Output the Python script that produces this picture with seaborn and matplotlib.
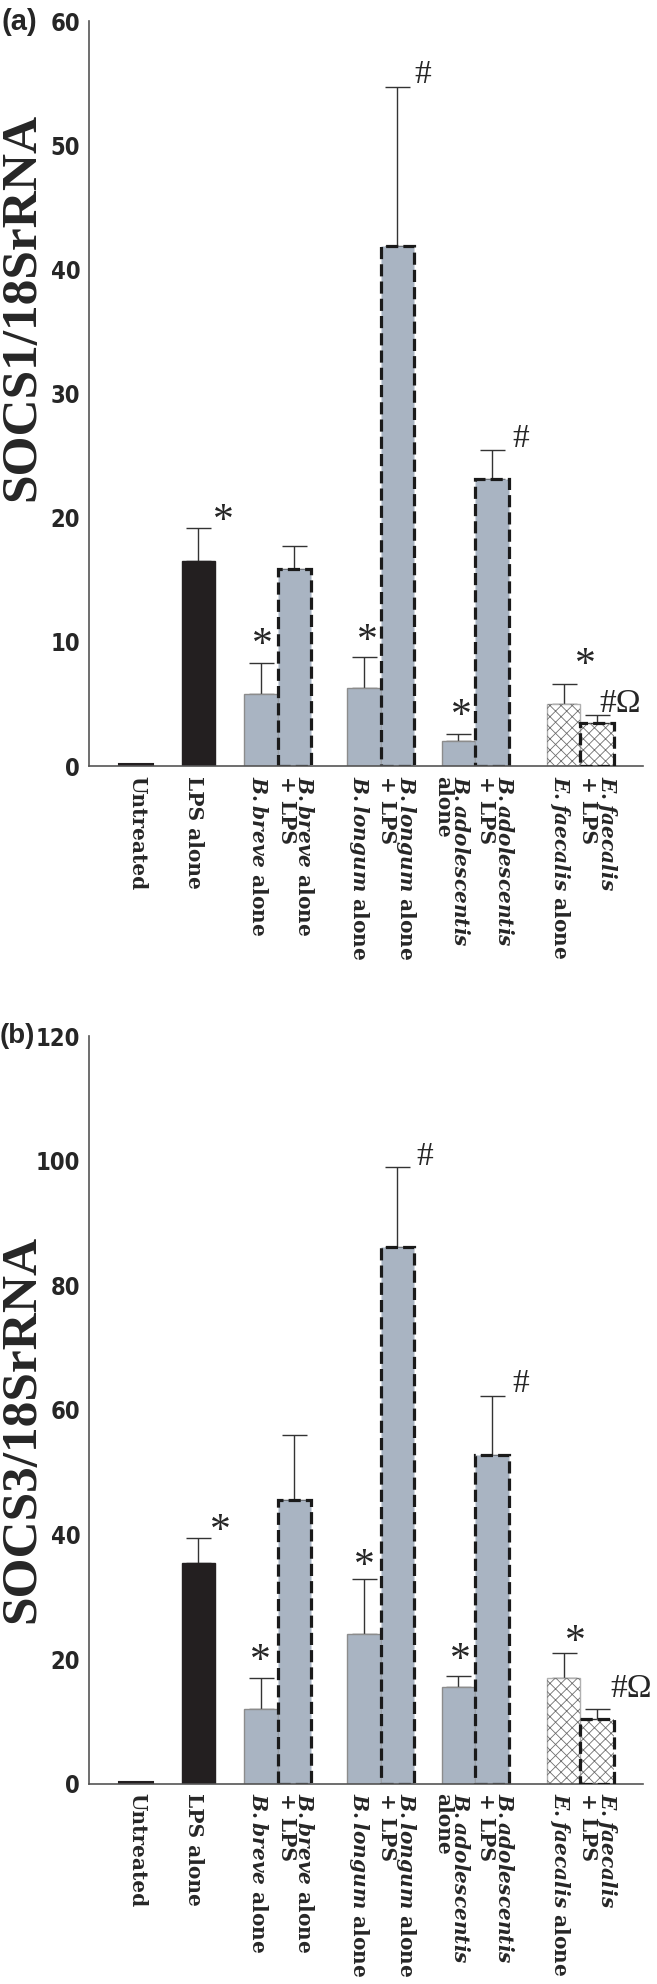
import numpy as np
import pandas as pd
import matplotlib
matplotlib.use('Agg')
import matplotlib.pyplot as plt
from matplotlib.patches import Rectangle
from matplotlib.transforms import ScaledTranslation
import seaborn as sns

# data (bar = mean, upper = top of the error bar)
groups = ['Untreated', 'LPS alone', 'B.breve alone', 'B.breve + LPS',
          'B.longum alone', 'B.longum + LPS', 'B.adolescentis alone',
          'B.adolescentis + LPS', 'E.faecalis alone', 'E.faecalis + LPS']
tick_labels = ['Untreated',
               'LPS alone',
               r'$\mathit{B.breve}$ alone',
               r'$\mathit{B.breve}$ alone' + '\n+ LPS',
               r'$\mathit{B.longum}$ alone',
               r'$\mathit{B.longum}$ alone' + '\n+ LPS',
               r'$\mathit{B.adolescentis}$' + '\nalone',
               r'$\mathit{B.adolescentis}$' + '\n+ LPS',
               r'$\mathit{E.faecalis}$ alone',
               r'$\mathit{E.faecalis}$' + '\n+ LPS']
socs1_mean = [0.15, 16.5, 5.8, 15.9, 6.3, 41.9, 2.0, 23.1, 5.0, 3.5]
socs1_upper = [0.15, 19.2, 8.3, 17.7, 8.8, 54.7, 2.6, 25.5, 6.6, 4.1]
socs3_mean = [0.3, 35.4, 11.9, 45.6, 24.0, 86.1, 15.5, 52.7, 16.9, 10.3]
socs3_upper = [0.3, 39.5, 16.9, 55.9, 32.8, 98.9, 17.3, 62.2, 21.0, 12.0]
marks = ['', '*', '*', '', '*', '#', '*', '#', '*', '#Ω']

# layout
xpos = [0, 1.86, 3.72, 4.72, 6.8, 7.8, 9.62, 10.62, 12.76, 13.76]
label_dx = [1, -4, -3, 1, -5, 0, -7, 3, -4, 1]   # pixel nudges of the tick labels
styles = ['none', 'black', 'grey', 'grey_dash', 'grey', 'grey_dash',
          'grey', 'grey_dash', 'hatch', 'hatch_dash']
offs_a = [None, (25, 6), (2, 17), None, (3, 15), (25, 12), (3, 17), (29, 11), (22, 18), (2, 11)]
offs_b = [None, (22, 6), (0, 17), None, (0, 13), (27, 11), (2, 15), (29, 12), (12, 10), (13, 20)]

sns.set_style('white')
plt.rcParams['font.family'] = ['DejaVu Sans']
plt.rcParams['mathtext.fontset'] = 'custom'
plt.rcParams['mathtext.it'] = 'DejaVu Serif:italic:bold'
plt.rcParams['mathtext.rm'] = 'DejaVu Serif:bold'
plt.rcParams['mathtext.bf'] = 'DejaVu Serif:bold'
plt.rcParams['hatch.linewidth'] = 0.6

GREY = '#a9b4c2'
DARK = '#231f20'
DASH = (0, (3.8, 1.6))


def panel(fig, ax, mean, upper, ylim, yticks, ylabel, label_y, offs):
    df = pd.DataFrame({'pos': xpos, 'value': mean, 'group': groups})
    sns.barplot(data=df, x='pos', y='value', native_scale=True, width=1,
                color=GREY, errorbar=None, ax=ax, zorder=2)
    for p, st in zip(list(ax.patches), styles):
        p.set_linewidth(1)
        if st == 'none':
            p.set_facecolor(DARK)
            p.set_edgecolor(DARK)
            p.set_linewidth(1.5)
        elif st == 'black':
            p.set_facecolor(DARK)
            p.set_edgecolor(DARK)
        elif st == 'grey':
            p.set_facecolor(GREY)
            p.set_edgecolor('#8c8c8c')
        elif st == 'grey_dash':
            p.set_facecolor(GREY)
            p.set_edgecolor('#1a1a1a')
            p.set_linewidth(2.3)
            p.set_linestyle(DASH)
        elif st.startswith('hatch'):
            p.set_facecolor('white')
            p.set_edgecolor('#b0b0b0')
            hp = Rectangle(p.get_xy(), p.get_width(), p.get_height(), fill=False,
                           hatch='xxx', edgecolor='#6e6e6e', linewidth=0, zorder=2.5)
            ax.add_patch(hp)
            if st == 'hatch_dash':
                p.set_facecolor('none')
                p.set_edgecolor('#1a1a1a')
                p.set_linewidth(2.3)
                p.set_linestyle(DASH)
                p.set_zorder(3)

    lower = np.zeros(len(mean))
    err = np.array(upper) - np.array(mean)
    ax.errorbar(xpos, mean, yerr=[lower, err], fmt='none', ecolor='#333333',
                elinewidth=1, capsize=9, capthick=1, zorder=1.5)

    for x, u, m, o in zip(xpos, upper, marks, offs):
        if not m:
            continue
        ha = 'left' if 'Ω' in m else 'center'
        size = 30 if m == '*' else 24
        ax.annotate(m, xy=(x, u), xytext=o, textcoords='offset pixels',
                    ha=ha, va='center', fontsize=size,
                    family=['Liberation Serif', 'DejaVu Serif'])

    ax.set_xlim(-1.40, 15.13)
    ax.set_ylim(*ylim)
    ax.set_yticks(yticks)
    ax.set_yticklabels([str(t) for t in yticks], fontsize=17, fontweight='bold',
                       fontstretch='condensed')
    ax.tick_params(axis='x', length=0, pad=7)
    ax.tick_params(axis='y', length=4, width=1, color='#555555', pad=2.5, direction='out')
    ax.set_xticks(xpos)
    ax.set_xticklabels(tick_labels, rotation=-90, ha='center', va='top',
                       multialignment='left', fontsize=14.5, linespacing=0.82,
                       family='DejaVu Serif', fontweight='bold')
    # nudge the tick labels sideways (after tick_params, which resets transforms)
    for lab, dx in zip(ax.get_xticklabels(), label_dx):
        lab.set_transform(lab.get_transform() +
                          ScaledTranslation(dx / fig.dpi, 0, fig.dpi_scale_trans))
    sns.despine(ax=ax)
    for s in ['left', 'bottom']:
        ax.spines[s].set_color('#555555')
        ax.spines[s].set_linewidth(1.2)
    ax.set_xlabel('')
    ax.set_ylabel(ylabel, fontsize=37, fontweight='bold', family='Liberation Serif')
    ax.yaxis.set_label_coords(-0.080, label_y)


fig = plt.figure(figsize=(6.57, 19.84), dpi=100)
ax1 = fig.add_axes([0.1358, 0.6139, 0.8430, 0.3753])
ax2 = fig.add_axes([0.1358, 0.1010, 0.8430, 0.3768])

panel(fig, ax1, socs1_mean, socs1_upper, (0, 60), [0, 10, 20, 30, 40, 50, 60],
      'SOCS1/18SrRNA', 0.6165, offs_a)
panel(fig, ax2, socs3_mean, socs3_upper, (0, 120), [0, 20, 40, 60, 80, 100, 120],
      'SOCS3/18SrRNA', 0.474, offs_b)

fig.text(0.002, 1 - 22 / 1984, '(a)', fontsize=21, fontweight='bold',
         family='Liberation Sans', va='center', ha='left')
fig.text(0.0, 1 - 1036 / 1984, '(b)', fontsize=20, fontweight='bold',
         family='Liberation Sans', va='center', ha='left')

plt.savefig('out.png', dpi=100)
